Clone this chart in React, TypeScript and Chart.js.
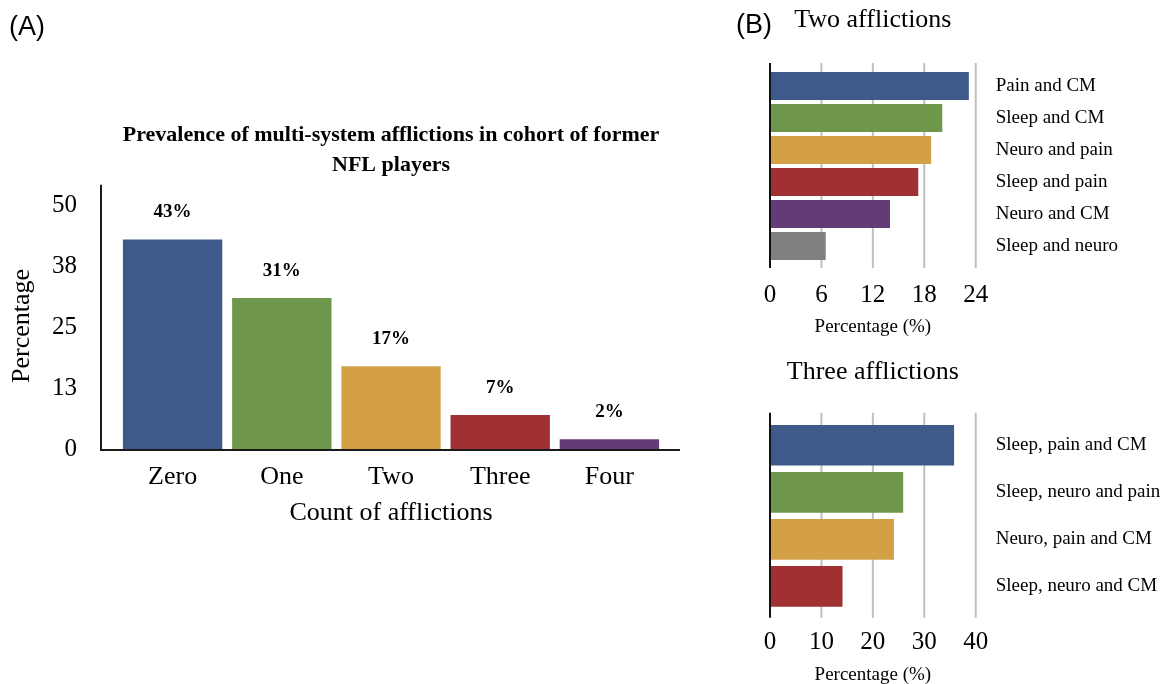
import React, { useEffect, useRef } from "react";
import { Chart, registerables } from "chart.js";

Chart.register(...registerables);

const SERIF = "'Liberation Serif', 'Times New Roman', serif";

// Panel A
const countCategories = ["Zero", "One", "Two", "Three", "Four"];
const countValues = [43, 31, 17, 7, 2];
const countTicks = [0, 12.5, 25, 37.5, 50];
const countColors = ["#3E5A8A", "#6F974C", "#D4A045", "#A13033", "#633B76"];

// Panel B - two afflictions
const twoCategories = ["Pain and CM", "Sleep and CM", "Neuro and pain", "Sleep and pain", "Neuro and CM", "Sleep and neuro"];
const twoValues = [23.2, 20.1, 18.8, 17.3, 14.0, 6.5];
const twoColors = ["#3E5A8A", "#6F974C", "#D4A045", "#A13033", "#633B76", "#808080"];

// Panel B - three afflictions
const threeCategories = ["Sleep, pain and CM", "Sleep, neuro and pain", "Neuro, pain and CM", "Sleep, neuro and CM"];
const threeValues = [35.8, 25.9, 24.1, 14.1];
const threeColors = ["#3E5A8A", "#6F974C", "#D4A045", "#A13033"];

const axisLinesA = {
  id: "axisLinesA",
  afterDraw(chart: any) {
    const { ctx, chartArea } = chart;
    ctx.save();
    ctx.strokeStyle = "#1a1a1a";
    ctx.lineWidth = 2;
    ctx.beginPath();
    ctx.moveTo(chartArea.left - 17, chartArea.top - 18);
    ctx.lineTo(chartArea.left - 17, chartArea.bottom + 2);
    ctx.moveTo(chartArea.left - 18, chartArea.bottom + 1);
    ctx.lineTo(chartArea.right + 16, chartArea.bottom + 1);
    ctx.stroke();
    ctx.restore();
  },
};

const dataLabelsA = {
  id: "dataLabelsA",
  afterDatasetsDraw(chart: any) {
    const { ctx } = chart;
    const meta = chart.getDatasetMeta(0);
    ctx.save();
    ctx.font = `bold 19px ${SERIF}`;
    ctx.fillStyle = "#000";
    ctx.textAlign = "center";
    ctx.textBaseline = "middle";
    meta.data.forEach((el: any, i: number) => {
      ctx.fillText(`${countValues[i]}%`, el.x, el.y - 27);
    });
    ctx.restore();
  },
};

const makeGridPlugin = (ext: number) => ({
  id: "gridB",
  beforeDatasetsDraw(chart: any) {
    const { ctx, chartArea, scales } = chart;
    const xs = scales.x;
    ctx.save();
    ctx.strokeStyle = "#BFBFBF";
    ctx.lineWidth = 2;
    xs.ticks.forEach((t: any) => {
      if (t.value === 0) return;
      const x = xs.getPixelForValue(t.value);
      ctx.beginPath();
      ctx.moveTo(x, chartArea.top - ext);
      ctx.lineTo(x, chartArea.bottom + ext - 1);
      ctx.stroke();
    });
    ctx.restore();
  },
  afterDatasetsDraw(chart: any) {
    const { ctx, chartArea } = chart;
    ctx.save();
    ctx.strokeStyle = "#111";
    ctx.lineWidth = 2;
    ctx.beginPath();
    ctx.moveTo(chartArea.left, chartArea.top - ext);
    ctx.lineTo(chartArea.left, chartArea.bottom + ext - 1);
    ctx.stroke();
    ctx.restore();
  },
});

export default function App() {
  const refA = useRef<HTMLCanvasElement>(null);
  const refB1 = useRef<HTMLCanvasElement>(null);
  const refB2 = useRef<HTMLCanvasElement>(null);

  useEffect(() => {
    const chartA = new Chart(refA.current as HTMLCanvasElement, {
      type: "bar",
      data: {
        labels: countCategories,
        datasets: [
          {
            data: countValues,
            backgroundColor: countColors,
            borderWidth: 0,
            barPercentage: 0.91,
            categoryPercentage: 1,
          },
        ],
      },
      options: {
        animation: false,
        responsive: false,
        events: [],
        layout: { padding: { left: 0, top: 120, right: 36, bottom: 21 } },
        plugins: {
          legend: { display: false },
          tooltip: { enabled: false },
          title: {
            display: true,
            fullSize: false,
            text: ["Prevalence of multi-system afflictions in cohort of former", "NFL players"],
            font: { family: SERIF, size: 22, weight: "bold", lineHeight: 1.36 },
            color: "#000",
            padding: { top: 0, bottom: 23 },
          },
        },
        scales: {
          x: {
            type: "category",
            offset: true,
            grid: { display: false, drawTicks: false },
            border: { display: false },
            ticks: { font: { family: SERIF, size: 26 }, color: "#000", padding: 13 },
            title: {
              display: true,
              text: "Count of afflictions",
              font: { family: SERIF, size: 26, lineHeight: 1.2 },
              color: "#000",
              padding: { top: 0, bottom: 10 },
            },
            afterFit: (s: any) => {
              s.height = 90;
            },
          },
          y: {
            min: 0,
            max: 50.5,
            grid: { display: false, drawTicks: false },
            border: { display: false },
            afterBuildTicks: (s: any) => {
              s.ticks = countTicks.map((v) => ({ value: v }));
            },
            ticks: {
              callback: (v: any) => String(Math.round(Number(v))),
              font: { family: SERIF, size: 25 },
              color: "#000",
              padding: 41,
            },
            title: {
              display: true,
              text: "Percentage",
              font: { family: SERIF, size: 26, lineHeight: 1.2 },
              color: "#000",
              padding: { top: 7, bottom: 0 },
            },
            afterFit: (s: any) => {
              s.width = 118;
            },
          },
        },
      },
      plugins: [axisLinesA, dataLabelsA],
    } as any);

    const chartB1 = new Chart(refB1.current as HTMLCanvasElement, {
      type: "bar",
      data: {
        labels: twoCategories,
        datasets: [
          {
            data: twoValues,
            backgroundColor: twoColors,
            borderWidth: 0,
            barPercentage: 0.875,
            categoryPercentage: 1,
          },
        ],
      },
      options: {
        indexAxis: "y",
        animation: false,
        responsive: false,
        events: [],
        layout: { padding: { left: 40, top: 5, right: 0, bottom: 2 } },
        plugins: {
          legend: { display: false },
          tooltip: { enabled: false },
          title: {
            display: true,
            fullSize: false,
            text: "Two afflictions",
            font: { family: SERIF, size: 26, weight: "normal", lineHeight: 1.16 },
            color: "#000",
            padding: { top: 0, bottom: 34.8 },
          },
        },
        scales: {
          x: {
            min: 0,
            max: 24,
            grid: { display: false, drawTicks: false },
            border: { display: false },
            ticks: { stepSize: 6, font: { family: SERIF, size: 25 }, color: "#000", padding: 18 },
            title: {
              display: true,
              text: "Percentage (%)",
              font: { family: SERIF, size: 19, lineHeight: 1.2 },
              color: "#000",
              padding: { top: 0, bottom: 0 },
            },
            afterFit: (s: any) => {
              s.height = 76;
            },
          },
          y: {
            position: "right",
            grid: { display: false, drawTicks: false },
            border: { display: false },
            ticks: { font: { family: SERIF, size: 19 }, color: "#000", padding: 20 },
            afterFit: (s: any) => {
              s.width = 185.3;
            },
          },
        },
      },
      plugins: [makeGridPlugin(7)],
    } as any);

    const chartB2 = new Chart(refB2.current as HTMLCanvasElement, {
      type: "bar",
      data: {
        labels: threeCategories,
        datasets: [
          {
            data: threeValues,
            backgroundColor: threeColors,
            borderWidth: 0,
            barPercentage: 0.866,
            categoryPercentage: 1,
          },
        ],
      },
      options: {
        indexAxis: "y",
        animation: false,
        responsive: false,
        events: [],
        layout: { padding: { left: 40, top: 17, right: 0, bottom: 0.4 } },
        plugins: {
          legend: { display: false },
          tooltip: { enabled: false },
          title: {
            display: true,
            fullSize: false,
            text: "Three afflictions",
            font: { family: SERIF, size: 26, weight: "normal", lineHeight: 1.16 },
            color: "#000",
            padding: { top: 0, bottom: 34.6 },
          },
        },
        scales: {
          x: {
            min: 0,
            max: 40,
            grid: { display: false, drawTicks: false },
            border: { display: false },
            ticks: { stepSize: 10, font: { family: SERIF, size: 25 }, color: "#000", padding: 18 },
            title: {
              display: true,
              text: "Percentage (%)",
              font: { family: SERIF, size: 19, lineHeight: 0.9 },
              color: "#000",
              padding: { top: 0, bottom: 0 },
            },
            afterFit: (s: any) => {
              s.height = 73.8;
            },
          },
          y: {
            position: "right",
            grid: { display: false, drawTicks: false },
            border: { display: false },
            ticks: { font: { family: SERIF, size: 19 }, color: "#000", padding: 20 },
            afterFit: (s: any) => {
              s.width = 185.3;
            },
          },
        },
      },
      plugins: [makeGridPlugin(9)],
    } as any);

    return () => {
      chartA.destroy();
      chartB1.destroy();
      chartB2.destroy();
    };
  }, []);

  const panelLabel: React.CSSProperties = {
    position: "absolute",
    font: "27px 'Liberation Sans', Arial, sans-serif",
    lineHeight: "30px",
    color: "#000",
  };

  return (
    <div
      style={{
        position: "absolute",
        left: 0,
        top: 0,
        width: 1161,
        height: 684,
        overflow: "hidden",
        background: "#fff",
      }}
    >
      <canvas ref={refA} width={700} height={560} style={{ position: "absolute", left: 0, top: 0 }} />
      <canvas ref={refB1} width={431} height={340} style={{ position: "absolute", left: 730, top: 0 }} />
      <canvas ref={refB2} width={431} height={344} style={{ position: "absolute", left: 730, top: 340 }} />
      <div style={{ ...panelLabel, left: 9, top: 11 }}>(A)</div>
      <div style={{ ...panelLabel, left: 736, top: 9 }}>(B)</div>
    </div>
  );
}
